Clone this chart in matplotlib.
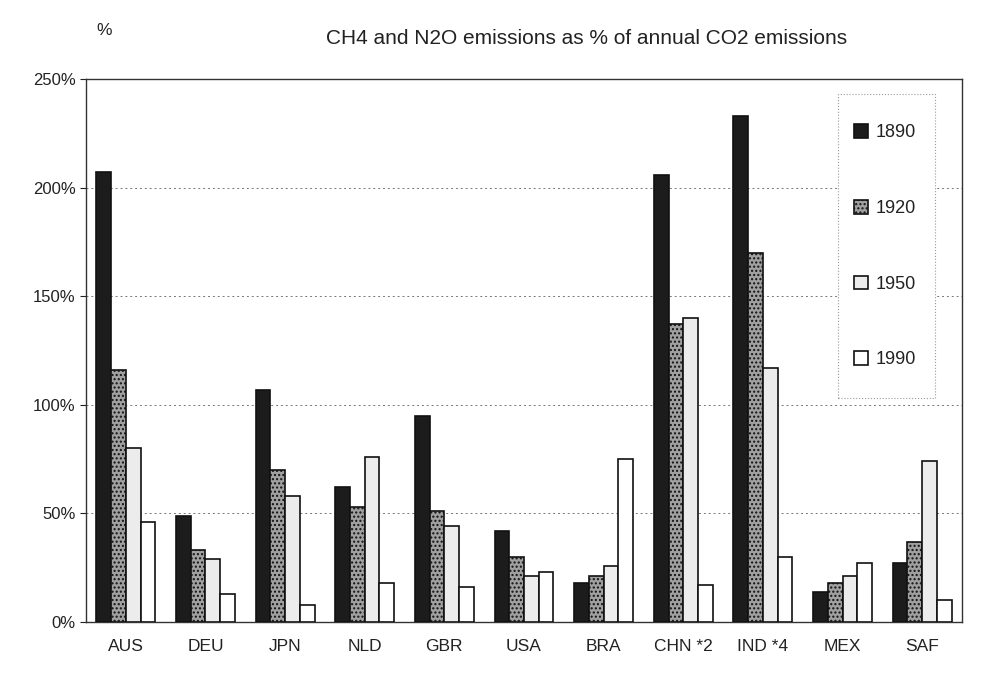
import numpy as np
import matplotlib.pyplot as plt
from matplotlib.patches import Rectangle
from matplotlib.ticker import PercentFormatter

plt.rcParams['font.family'] = ['Liberation Sans', 'DejaVu Sans']

# Data (percent of annual CO2 emissions)
countries = ['AUS', 'DEU', 'JPN', 'NLD', 'GBR', 'USA', 'BRA', 'CHN *2', 'IND *4', 'MEX', 'SAF']
years = ['1890', '1920', '1950', '1990']
v1890 = [207, 49, 107, 62, 95, 42, 18, 206, 233, 14, 27]
v1920 = [116, 33, 70, 53, 51, 30, 21, 137, 170, 18, 37]
v1950 = [80, 29, 58, 76, 44, 21, 26, 140, 117, 21, 74]
v1990 = [46, 13, 8, 18, 16, 23, 75, 17, 30, 27, 10]

series = [v1890, v1920, v1950, v1990]
faces = ['#1c1c1c', '#a0a0a0', '#ececec', 'white']
hatches = ['', '....', '', '']

fig = plt.figure(figsize=(9.86, 6.75), dpi=100)
ax = fig.add_axes([0.0872, 0.0785, 0.8885, 0.8045])

x = np.arange(len(countries))
w = 0.185
for i, (vals, fc, h, lab) in enumerate(zip(series, faces, hatches, years)):
    ax.bar(x + (i - 1.5) * w, vals, w, color=fc, edgecolor='#111111',
           linewidth=1.2, hatch=h, label=lab, zorder=3)

ax.set_xlim(-0.5, len(countries) - 0.5)
ax.set_ylim(0, 250)
ax.set_yticks([0, 50, 100, 150, 200, 250])
ax.yaxis.set_major_formatter(PercentFormatter(decimals=0))
ax.set_xticks(x)
ax.set_xticklabels(countries)
ax.tick_params(axis='x', length=0, pad=12, labelsize=12.5, colors='#222222')
ax.tick_params(axis='y', length=4, labelsize=12, colors='#222222')

ax.grid(axis='y', color='#777777', linestyle=(0, (2, 3)), linewidth=0.7, zorder=0)
for s in ax.spines.values():
    s.set_color('#333333')
    s.set_linewidth(1.0)

fig.text(0.098, 0.955, '%', fontsize=12.5, color='#222222', ha='left', va='center')
fig.text(0.595, 0.943, 'CH4 and N2O emissions as % of annual CO2 emissions',
         fontsize=15, color='#222222', ha='center', va='center')

# legend: entries without frame, dotted box drawn separately underneath
ax.add_patch(Rectangle((0.850, 0.4104), 0.0984, 0.4504, transform=fig.transFigure,
                       facecolor='white', edgecolor='#999999', linestyle=':',
                       linewidth=0.8, zorder=4, clip_on=False))
leg = ax.legend(loc='upper left', bbox_to_anchor=(0.866, 0.816),
                bbox_transform=fig.transFigure, fontsize=13,
                labelspacing=3.24, handlelength=0.8, handleheight=0.8,
                handletextpad=0.4, borderpad=0, borderaxespad=0, frameon=False)
for t in leg.get_texts():
    t.set_color('#222222')
leg.set_zorder(5)

fig.savefig('out.png', dpi=100)
